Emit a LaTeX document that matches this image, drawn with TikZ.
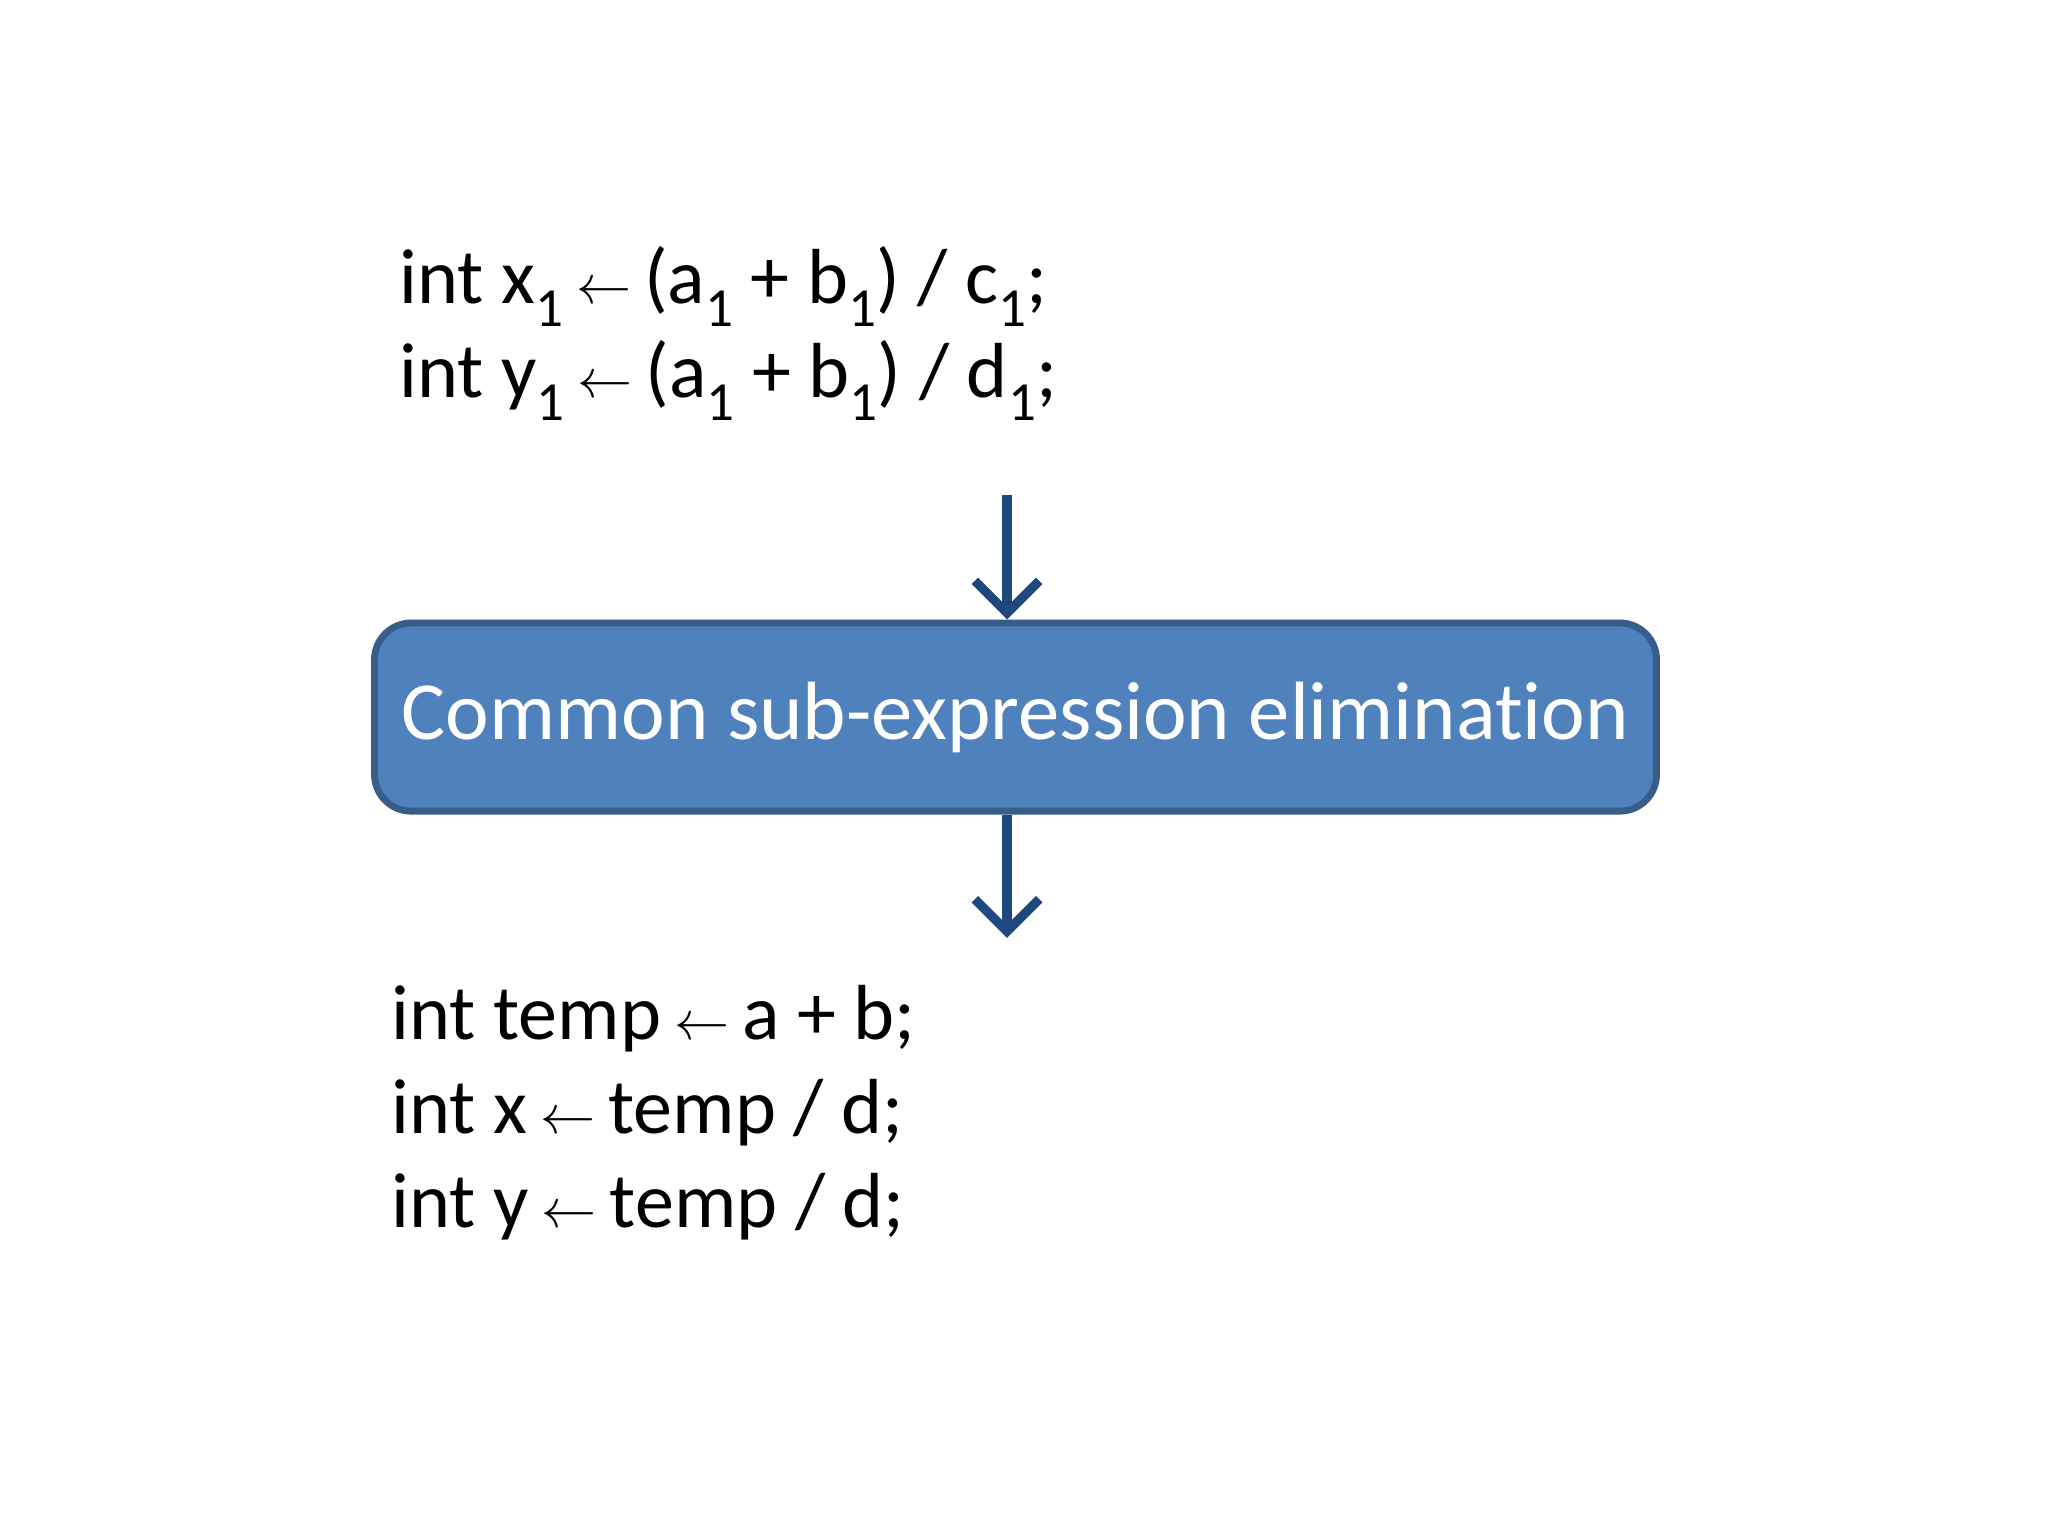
\documentclass[tikz,border=0pt]{standalone}
\usepackage{fontspec}
\setmainfont[Ligatures=NoCommon]{Carlito}
\usetikzlibrary{arrows.meta}
\newcommand{\la}{\,{\fontsize{13}{13}\selectfont$\leftarrow$}\,}
\newcommand{\sbo}{\raisebox{-0.3em}{\fontsize{12}{12}\selectfont 1}}
\begin{document}
\begin{tikzpicture}[x=0.01cm,y=-0.01cm,
  code/.style={anchor=base west,inner sep=0pt,font=\fontsize{17}{21}\selectfont},
  flow/.style={draw=arrowc,line width=2.2pt,-{Straight Barb[length=7pt,width=14pt,line width=2pt]}}]
\useasboundingbox (0,0) rectangle (1568,1176);
\definecolor{boxfill}{HTML}{4F81BD}
\definecolor{boxline}{HTML}{385D8A}
\definecolor{arrowc}{HTML}{1F497D}
\node[code] (l1) at (305,232) {int x\sbo\la(a\sbo\ + b\sbo) / c\sbo;};
\node[code] (l2) at (305,304) {int y\sbo\la(a\sbo\ + b\sbo) / d\sbo;};
\node[draw=boxline,fill=boxfill,line width=1.5pt,rounded corners=8pt,minimum width=9.81cm,
  minimum height=1.44cm,align=center,text=white,font=\fontsize{18}{22}\selectfont] (box) at (777.5,549) {Common sub-expression elimination};
\coordinate (top) at (771,379);
\coordinate (bot) at (771,718);
\draw[flow] (top) -- (box.north -| top);
\draw[flow] (box.south -| top) -- (bot);
\node[code] (m1) at (299,796) {int temp\la a + b;};
\node[code] (m2) at (299,868) {int x\la temp / d;};
\node[code] (m3) at (299,940) {int y\la temp / d;};
\end{tikzpicture}
\end{document}
